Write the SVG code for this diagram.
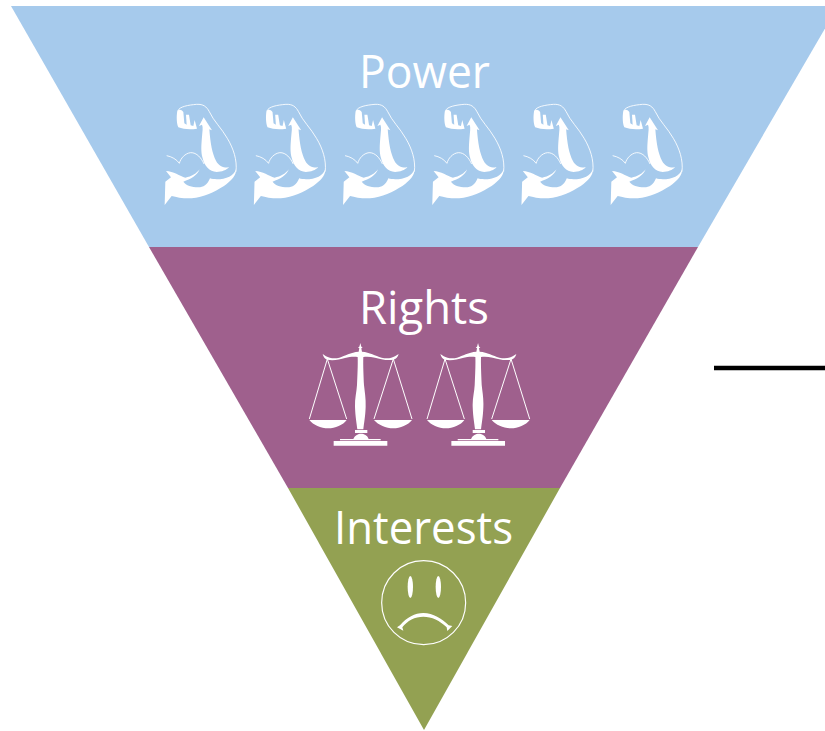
<svg xmlns="http://www.w3.org/2000/svg" xmlns:xlink="http://www.w3.org/1999/xlink" width="825" height="731" viewBox="0 0 825 731">
<style>
.lbl{font-family:"Open Sans","Noto Sans",sans-serif;font-size:45px;fill:#fff;text-anchor:middle}
.w{fill:#fff}
.t{fill:none;stroke:#fff;stroke-width:2.6}
</style>
<defs>
<g id="muscle">
<path class="w" d="M44 345 L46 275 L63 262 L48 243 C70 244 90 258 106 263 C125 260 140 250 149 238 C143 255 122 268 100 275 C108 286 125 292 145 292 C160 292 172 285 180 265 C195 270 222 268 238 260 C248 255 255 248 258 238 C260 255 245 272 222 288 C195 305 160 322 125 325 C100 326 80 322 65 318 Z"/>
<path class="w" d="M161 82 L147 108 L156 104 C160 112 157 125 156 140 C154 165 152 185 158 205 C163 228 178 245 200 246 C215 246 230 240 237 232 C222 234 206 228 198 212 C187 192 181 160 178 118 L186 121 Z"/>
<path class="w" d="M82 62 C79 80 80 100 85 112 C100 117 118 120 141 116 L134 90 L130 108 L122 106 L117 74 L108 74 L110 104 L103 100 L100 66 C94 58 88 58 82 62 Z"/>
<path class="t" d="M84 62 C88 50 115 45 140 43 C160 42 170 50 178 65 C190 92 215 115 232 145 C250 175 262 210 258 245"/>
<path class="t" d="M50 197 C65 200 80 208 88 220 C92 205 105 190 122 188 C140 187 155 205 162 222"/>
</g>
<g id="scale">
<path class="w" d="M181 24 L184 35 L188 37 L184 40 L186 50 C210 52 225 62 245 68 C260 72 275 70 285 64 L296 57 C294 66 288 72 280 74 C262 78 240 72 225 68 C212 65 200 64 190 66 C189 90 191 125 192 150 C194 170 198 190 197 215 C196 245 192 265 190 283 L172 283 C170 265 166 245 165 215 C164 190 170 170 171 150 C172 125 174 90 173 66 C160 64 148 66 135 69 C120 73 100 78 82 74 C75 72 70 66 68 57 L78 64 C88 70 105 72 118 68 C135 62 152 52 176 50 L178 40 L174 37 L178 35 Z"/>
<path class="w" d="M165 285 H202 V294 H165 Z M160 312 C165 300 175 296 183 296 C192 296 202 300 206 312 Z M120 312 H242 V316 H120 Z M101 318 H262 V332 H101 Z"/>
<path class="w" d="M28 255 H140 C130 270 105 280 85 280 C62 280 40 270 28 255 Z M222 255 H336 C325 270 300 280 280 280 C258 280 235 270 222 255 Z"/>
<path class="t" style="stroke-width:3" d="M28 252 L82 72 L140 252 M222 252 L280 72 L336 252"/>
</g>
</defs>
<g id="power">
<polygon points="11,6 838,6 698,247 149,247" fill="#a6caec"/>
<text class="lbl" x="424.500" y="88" textLength="131" lengthAdjust="spacingAndGlyphs">Power</text>
<g id="muscles">
<use xlink:href="#muscle" href="#muscle" transform="translate(150,90) scale(.3333)"/>
<use xlink:href="#muscle" href="#muscle" transform="translate(239.2,90) scale(.3333)"/>
<use xlink:href="#muscle" href="#muscle" transform="translate(328.4,90) scale(.3333)"/>
<use xlink:href="#muscle" href="#muscle" transform="translate(417.6,90) scale(.3333)"/>
<use xlink:href="#muscle" href="#muscle" transform="translate(506.8,90) scale(.3333)"/>
<use xlink:href="#muscle" href="#muscle" transform="translate(596,90) scale(.3333)"/>
</g>
</g>
<g id="rights">
<polygon points="149,247 698,247 560,488 288,488" fill="#9f608d"/>
<text class="lbl" x="424" y="324" textLength="130" lengthAdjust="spacingAndGlyphs">Rights</text>
<use xlink:href="#scale" href="#scale" transform="translate(300,335) scale(.3333)"/>
<use xlink:href="#scale" href="#scale" transform="translate(417.7,335) scale(.3333)"/>
</g>
<g id="interests">
<polygon points="288,488 560,488 424,730" fill="#93a152"/>
<text class="lbl" x="423.500" y="544" textLength="179" lengthAdjust="spacingAndGlyphs">Interests</text>
<g transform="translate(370,550) scale(.3333)">
<circle cx="161" cy="158" r="126" fill="none" stroke="#fff" stroke-width="3.5"/>
<ellipse class="w" cx="121" cy="111" rx="8" ry="33"/>
<ellipse class="w" cx="205" cy="111" rx="8" ry="33"/>
<path class="w" d="M81 232 L90 226 C110 202 135 189 160 189 C190 190 215 205 236 226 L247 228 L232 243 L230 232 C210 212 185 200 160 200 C135 200 112 212 97 232 L100 242 Z"/>
</g>
</g>
<g id="connectors">
<line x1="714" y1="368" x2="825" y2="368" stroke="#000" stroke-width="4.5"/>
</g>
</svg>
